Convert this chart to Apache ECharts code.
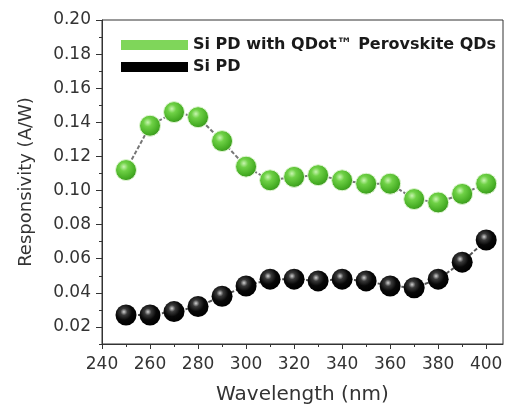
<!DOCTYPE html>
<html>
<head>
<meta charset="utf-8">
<script src="https://cdn.jsdelivr.net/npm/echarts@6/dist/echarts.min.js"></script>
<style>
  html, body { margin: 0; padding: 0; background: #fff; }
  #chart { width: 507px; height: 410px; }
</style>
</head>
<body>
<div id="chart"></div>
<script>
// wavelength (nm)
var wavelength = [250, 260, 270, 280, 290, 300, 310, 320, 330, 340, 350, 360, 370, 380, 390, 400];
// responsivity (A/W)
var withQDots = [0.112, 0.138, 0.146, 0.143, 0.129, 0.114, 0.106, 0.108, 0.109, 0.106, 0.104, 0.104, 0.095, 0.093, 0.098, 0.104];
var bareSiPD = [0.027, 0.027, 0.029, 0.032, 0.038, 0.044, 0.048, 0.048, 0.047, 0.048, 0.047, 0.044, 0.043, 0.048, 0.058, 0.071];
var seriesNames = ['Si PD with QDot\u2122 Perovskite QDs', 'Si PD'];
var xTicks = [240, 260, 280, 300, 320, 340, 360, 380, 400];
var xMinorTicks = [250, 270, 290, 310, 330, 350, 370, 390];
var yTicks = [0.02, 0.04, 0.06, 0.08, 0.10, 0.12, 0.14, 0.16, 0.18, 0.20];

var myChart = echarts.init(document.getElementById('chart'));

function pairs(ys) {
	var res = [];
	for (var i = 0; i < wavelength.length; i++) {
		res.push([wavelength[i], ys[i]]);
	}
	return res;
}

// shaded ball look
var greenBall = {
	type: 'radial', x: 0.4, y: 0.35, r: 0.65,
	colorStops: [
		{ offset: 0, color: '#c8f5b0' },
		{ offset: 0.3, color: '#6fd146' },
		{ offset: 0.8, color: '#46ad24' },
		{ offset: 1, color: '#3b9620' }
	]
};
var blackBall = {
	type: 'radial', x: 0.4, y: 0.35, r: 0.65,
	colorStops: [
		{ offset: 0, color: '#d0d0d0' },
		{ offset: 0.25, color: '#3a3a3a' },
		{ offset: 0.6, color: '#080808' },
		{ offset: 1, color: '#000' }
	]
};

var fontFam = 'DejaVu Sans';

var option = {
	animation: false,
	grid: {
		left: 102, right: 4, top: 20, bottom: 65,
		show: true, borderColor: '#333', borderWidth: 1
	},
	legend: {
		orient: 'vertical',
		left: 116,
		top: 32,
		itemWidth: 67,
		itemHeight: 10,
		itemGap: 6,
		icon: 'rect',
		data: [
			{ name: seriesNames[0], itemStyle: { color: '#7fd65a', borderWidth: 0 } },
			{ name: seriesNames[1], itemStyle: { color: '#000', borderWidth: 0 } }
		],
		textStyle: { fontFamily: fontFam, fontWeight: 'bold', fontSize: 16, color: '#1a1a1a' }
	},
	xAxis: [{
		type: 'value',
		min: 240, max: 407,
		name: 'Wavelength (nm)',
		nameLocation: 'middle',
		nameGap: 41,
		nameTextStyle: { fontFamily: fontFam, fontSize: 20, color: '#333' },
		splitLine: { show: false },
		axisLine: { lineStyle: { color: '#333' } },
		axisTick: { customValues: xTicks, length: 5, lineStyle: { color: '#333' } },
		axisLabel: { customValues: xTicks, fontFamily: fontFam, fontSize: 17, color: '#333', margin: 12 }
	}, {
		// minor ticks
		type: 'value',
		min: 240, max: 407,
		position: 'bottom',
		splitLine: { show: false },
		axisLine: { show: false },
		axisTick: { customValues: xMinorTicks, length: 3, lineStyle: { color: '#333' } },
		axisLabel: { show: false }
	}],
	yAxis: [{
		type: 'value',
		min: 0.01, max: 0.20,
		name: 'Responsivity (A/W)',
		nameLocation: 'middle',
		nameGap: 67,
		nameTextStyle: { fontFamily: fontFam, fontSize: 18, color: '#333' },
		splitLine: { show: false },
		axisLine: { show: true, lineStyle: { color: '#333' } },
		axisTick: { customValues: yTicks, length: 6, lineStyle: { color: '#333' } },
		axisLabel: {
			customValues: yTicks,
			fontFamily: fontFam, fontSize: 17, color: '#333', margin: 11,
			formatter: function (v) { return v.toFixed(2); }
		}
	}, {
		// minor ticks
		type: 'value',
		min: 0.01, max: 0.20,
		interval: 0.01,
		position: 'left',
		splitLine: { show: false },
		axisLine: { show: false },
		axisTick: { length: 3, lineStyle: { color: '#333' } },
		axisLabel: { show: false }
	}],
	series: [{
		name: seriesNames[0],
		type: 'line',
		data: pairs(withQDots),
		symbol: 'circle',
		symbolSize: 21,
		itemStyle: { color: greenBall, borderColor: '#dff5d2', borderWidth: 1 },
		lineStyle: { color: '#777', width: 2, type: [4, 2] },
		z: 3
	}, {
		name: seriesNames[1],
		type: 'line',
		data: pairs(bareSiPD),
		symbol: 'circle',
		symbolSize: 21,
		itemStyle: { color: blackBall, borderWidth: 0 },
		lineStyle: { color: '#555', width: 2, type: [4, 2] },
		z: 3
	}]
};

myChart.setOption(option);
</script>
</body>
</html>
